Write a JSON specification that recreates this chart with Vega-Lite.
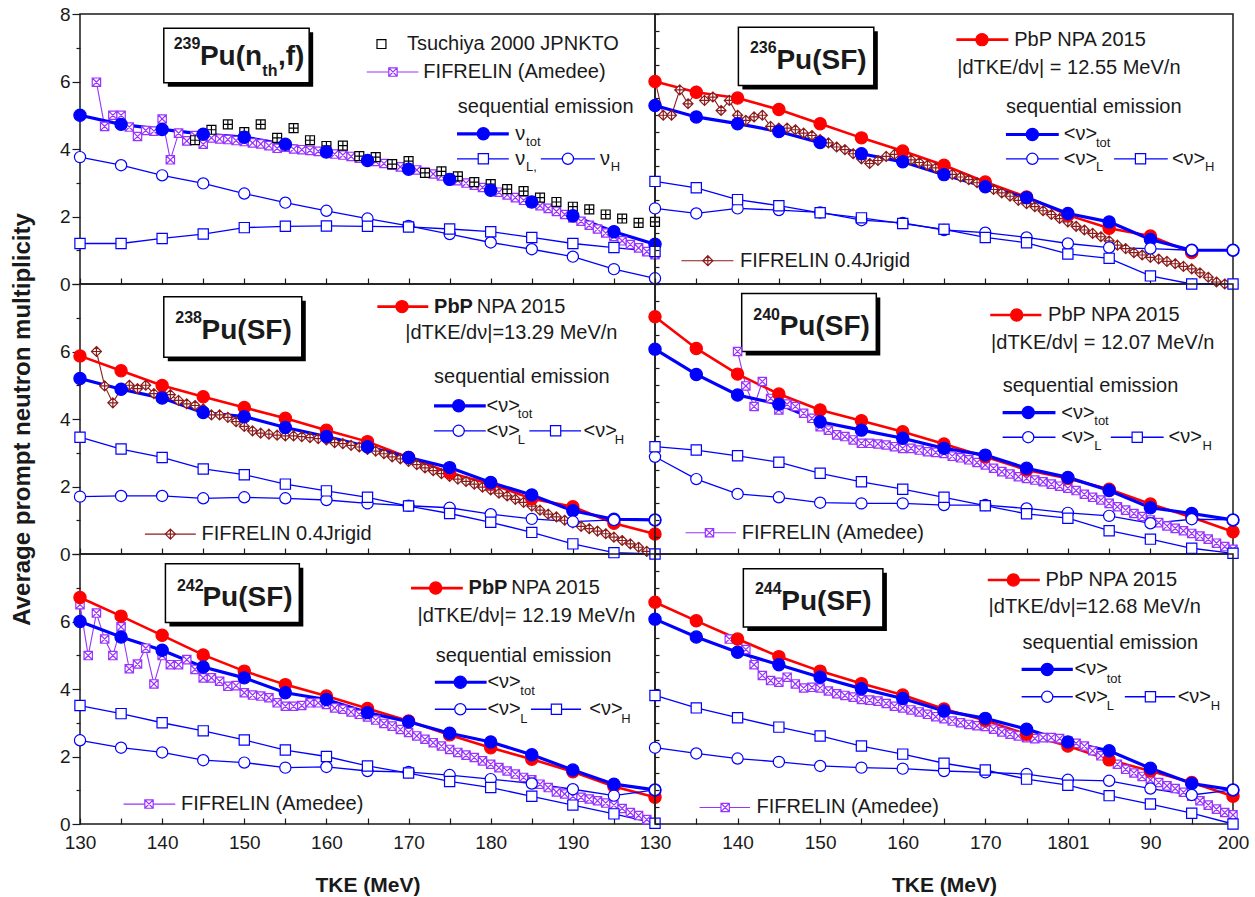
{
"$schema":"https://vega.github.io/schema/vega-lite/v6.json",
"padding":{"left":9,"top":4,"right":5,"bottom":5},
"bounds":"flush","spacing":0,"columns":2,
"config":{"view":{"stroke":"#1a1a1a","strokeWidth":1.5},
"axis":{"labelFont":"Liberation Sans","labelFontSize":19,"labelColor":"#1a1a1a","tickColor":"#1a1a1a","tickWidth":1.2,"domain":false,"grid":false,"labelFlush":false,"labelOverlap":false,"titleFont":"Liberation Sans","titleFontWeight":"bold","titleColor":"#1a1a1a"},
"text":{"font":"Liberation Sans"}},
"data":{"values":[
{"p":1,"k":"box","x":140.2,"x2":157.9,"y":7.58,"y2":5.96},
{"p":1,"k":"sup","t":"239","x":141.4,"y":7.1},
{"p":1,"k":"tt","t":"Pu(n","x":144.6,"y":6.72},
{"p":1,"k":"sup","t":"th","x":152.2,"y":6.3},
{"p":1,"k":"tt","t":",f)","x":154.1,"y":6.72},
{"p":1,"k":"kp","s":"TsuK","x":166.7,"y":7.11},
{"p":1,"k":"leg","t":"Tsuchiya 2000 JPNKTO","x":169.8,"y":7.11},
{"p":1,"k":"kl","s":"FIF","x":164.9,"x2":171.2,"y":6.28},
{"p":1,"k":"kp","s":"FIF","x":168.1,"y":6.28},
{"p":1,"k":"leg","t":"FIFRELIN (Amedee)","x":171.8,"y":6.28},
{"p":1,"k":"leg","t":"sequential emission","x":176.0,"y":5.24},
{"p":1,"k":"kl","s":"tot","x":175.9,"x2":182.2,"y":4.45},
{"p":1,"k":"kp","s":"tot","x":179.1,"y":4.45},
{"p":1,"k":"leg","t":"ν","x":183.0,"y":4.45},
{"p":1,"k":"ls","t":"tot","x":184.3,"y":4.2},
{"p":1,"k":"kl","s":"os","x":175.9,"x2":182.2,"y":3.71},
{"p":1,"k":"kp","s":"os","x":179.1,"y":3.71},
{"p":1,"k":"leg","t":"ν","x":183.0,"y":3.71},
{"p":1,"k":"ls","t":"L,","x":184.3,"y":3.46},
{"p":1,"k":"kl","s":"oc","x":186.1,"x2":192.7,"y":3.71},
{"p":1,"k":"kp","s":"oc","x":189.4,"y":3.71},
{"p":1,"k":"leg","t":"ν","x":193.3,"y":3.71},
{"p":1,"k":"ls","t":"H","x":194.6,"y":3.46},
{"p":1,"s":"FIF","x":132,"y":5.98},{"p":1,"s":"FIF","x":133,"y":4.67},{"p":1,"s":"FIF","x":134,"y":5.0},{"p":1,"s":"FIF","x":135,"y":5.0},{"p":1,"s":"FIF","x":136,"y":4.65},{"p":1,"s":"FIF","x":137,"y":4.37},{"p":1,"s":"FIF","x":138,"y":4.55},{"p":1,"s":"FIF","x":139,"y":4.53},{"p":1,"s":"FIF","x":140,"y":4.89},{"p":1,"s":"FIF","x":141,"y":3.68},{"p":1,"s":"FIF","x":142,"y":4.47},{"p":1,"s":"FIF","x":143,"y":4.24},{"p":1,"s":"FIF","x":144,"y":4.40},{"p":1,"s":"FIF","x":145,"y":4.14},{"p":1,"s":"FIF","x":146,"y":4.33},{"p":1,"s":"FIF","x":147,"y":4.30},{"p":1,"s":"FIF","x":148,"y":4.28},{"p":1,"s":"FIF","x":149,"y":4.25},{"p":1,"s":"FIF","x":150,"y":4.22},{"p":1,"s":"FIF","x":151,"y":4.18},{"p":1,"s":"FIF","x":152,"y":4.15},{"p":1,"s":"FIF","x":153,"y":4.10},{"p":1,"s":"FIF","x":154,"y":4.02},{"p":1,"s":"FIF","x":155,"y":4.05},{"p":1,"s":"FIF","x":156,"y":4.0},{"p":1,"s":"FIF","x":157,"y":3.98},{"p":1,"s":"FIF","x":158,"y":3.96},{"p":1,"s":"FIF","x":159,"y":3.93},{"p":1,"s":"FIF","x":160,"y":3.89},{"p":1,"s":"FIF","x":161,"y":3.85},{"p":1,"s":"FIF","x":162,"y":3.82},{"p":1,"s":"FIF","x":163,"y":3.78},{"p":1,"s":"FIF","x":164,"y":3.73},{"p":1,"s":"FIF","x":165,"y":3.68},{"p":1,"s":"FIF","x":166,"y":3.63},{"p":1,"s":"FIF","x":167,"y":3.57},{"p":1,"s":"FIF","x":168,"y":3.52},{"p":1,"s":"FIF","x":169,"y":3.47},{"p":1,"s":"FIF","x":170,"y":3.43},{"p":1,"s":"FIF","x":171,"y":3.38},{"p":1,"s":"FIF","x":172,"y":3.32},{"p":1,"s":"FIF","x":173,"y":3.26},{"p":1,"s":"FIF","x":174,"y":3.20},{"p":1,"s":"FIF","x":175,"y":3.13},{"p":1,"s":"FIF","x":176,"y":3.06},{"p":1,"s":"FIF","x":177,"y":2.99},{"p":1,"s":"FIF","x":178,"y":2.93},{"p":1,"s":"FIF","x":179,"y":2.86},{"p":1,"s":"FIF","x":180,"y":2.79},{"p":1,"s":"FIF","x":181,"y":2.72},{"p":1,"s":"FIF","x":182,"y":2.64},{"p":1,"s":"FIF","x":183,"y":2.56},{"p":1,"s":"FIF","x":184,"y":2.48},{"p":1,"s":"FIF","x":185,"y":2.40},{"p":1,"s":"FIF","x":186,"y":2.32},{"p":1,"s":"FIF","x":187,"y":2.24},{"p":1,"s":"FIF","x":188,"y":2.15},{"p":1,"s":"FIF","x":189,"y":2.06},{"p":1,"s":"FIF","x":190,"y":1.96},{"p":1,"s":"FIF","x":191,"y":1.86},{"p":1,"s":"FIF","x":192,"y":1.74},{"p":1,"s":"FIF","x":193,"y":1.63},{"p":1,"s":"FIF","x":194,"y":1.51},{"p":1,"s":"FIF","x":195,"y":1.41},{"p":1,"s":"FIF","x":196,"y":1.28},{"p":1,"s":"FIF","x":197,"y":1.17},{"p":1,"s":"FIF","x":198,"y":1.07},{"p":1,"s":"FIF","x":199,"y":0.96},{"p":1,"s":"FIF","x":200,"y":0.87},
{"p":1,"s":"Tsu","x":144,"y":4.26},{"p":1,"s":"Tsu","x":146,"y":4.57},{"p":1,"s":"Tsu","x":148,"y":4.73},{"p":1,"s":"Tsu","x":150,"y":4.50},{"p":1,"s":"Tsu","x":152,"y":4.73},{"p":1,"s":"Tsu","x":154,"y":4.33},{"p":1,"s":"Tsu","x":156,"y":4.62},{"p":1,"s":"Tsu","x":158,"y":4.26},{"p":1,"s":"Tsu","x":160,"y":4.09},{"p":1,"s":"Tsu","x":162,"y":4.10},{"p":1,"s":"Tsu","x":164,"y":3.79},{"p":1,"s":"Tsu","x":166,"y":3.76},{"p":1,"s":"Tsu","x":168,"y":3.55},{"p":1,"s":"Tsu","x":170,"y":3.64},{"p":1,"s":"Tsu","x":172,"y":3.29},{"p":1,"s":"Tsu","x":174,"y":3.34},{"p":1,"s":"Tsu","x":176,"y":3.19},{"p":1,"s":"Tsu","x":178,"y":3.02},{"p":1,"s":"Tsu","x":180,"y":2.96},{"p":1,"s":"Tsu","x":182,"y":2.81},{"p":1,"s":"Tsu","x":184,"y":2.75},{"p":1,"s":"Tsu","x":186,"y":2.56},{"p":1,"s":"Tsu","x":188,"y":2.43},{"p":1,"s":"Tsu","x":190,"y":2.29},{"p":1,"s":"Tsu","x":192,"y":2.21},{"p":1,"s":"Tsu","x":194,"y":2.06},{"p":1,"s":"Tsu","x":196,"y":1.94},{"p":1,"s":"Tsu","x":198,"y":1.81},{"p":1,"s":"Tsu","x":200,"y":1.84},
{"p":1,"s":"tot","x":130,"y":5.0},{"p":1,"s":"tot","x":135,"y":4.73},{"p":1,"s":"tot","x":140,"y":4.58},{"p":1,"s":"tot","x":145,"y":4.44},{"p":1,"s":"tot","x":150,"y":4.35},{"p":1,"s":"tot","x":155,"y":4.14},{"p":1,"s":"tot","x":160,"y":3.91},{"p":1,"s":"tot","x":165,"y":3.66},{"p":1,"s":"tot","x":170,"y":3.40},{"p":1,"s":"tot","x":175,"y":3.10},{"p":1,"s":"tot","x":180,"y":2.78},{"p":1,"s":"tot","x":185,"y":2.43},{"p":1,"s":"tot","x":190,"y":2.02},{"p":1,"s":"tot","x":195,"y":1.55},{"p":1,"s":"tot","x":200,"y":1.18},
{"p":1,"s":"oc","x":130,"y":3.76},{"p":1,"s":"oc","x":135,"y":3.52},{"p":1,"s":"oc","x":140,"y":3.22},{"p":1,"s":"oc","x":145,"y":2.98},{"p":1,"s":"oc","x":150,"y":2.68},{"p":1,"s":"oc","x":155,"y":2.41},{"p":1,"s":"oc","x":160,"y":2.17},{"p":1,"s":"oc","x":165,"y":1.94},{"p":1,"s":"oc","x":170,"y":1.72},{"p":1,"s":"oc","x":175,"y":1.48},{"p":1,"s":"oc","x":180,"y":1.23},{"p":1,"s":"oc","x":185,"y":1.03},{"p":1,"s":"oc","x":190,"y":0.81},{"p":1,"s":"oc","x":195,"y":0.44},{"p":1,"s":"oc","x":200,"y":0.17},
{"p":1,"s":"os","x":130,"y":1.20},{"p":1,"s":"os","x":135,"y":1.20},{"p":1,"s":"os","x":140,"y":1.35},{"p":1,"s":"os","x":145,"y":1.48},{"p":1,"s":"os","x":150,"y":1.67},{"p":1,"s":"os","x":155,"y":1.71},{"p":1,"s":"os","x":160,"y":1.72},{"p":1,"s":"os","x":165,"y":1.71},{"p":1,"s":"os","x":170,"y":1.69},{"p":1,"s":"os","x":175,"y":1.63},{"p":1,"s":"os","x":180,"y":1.55},{"p":1,"s":"os","x":185,"y":1.38},{"p":1,"s":"os","x":190,"y":1.20},{"p":1,"s":"os","x":195,"y":1.08},{"p":1,"s":"os","x":200,"y":0.96},

{"p":2,"k":"box","x":140.1,"x2":156.5,"y":7.61,"y2":5.88},
{"p":2,"k":"sup","t":"236","x":141.5,"y":7.0},
{"p":2,"k":"tt","t":"Pu(SF)","x":144.7,"y":6.62},
{"p":2,"k":"kl","s":"PbP","x":166.5,"x2":172.8,"y":7.24},
{"p":2,"k":"kp","s":"PbP","x":169.6,"y":7.24},
{"p":2,"k":"leg","t":"PbP NPA 2015","x":173.5,"y":7.24},
{"p":2,"k":"leg","t":"|dTKE/dν| = 12.55 MeV/n","x":166.6,"y":6.39},
{"p":2,"k":"leg","t":"sequential emission","x":172.5,"y":5.24},
{"p":2,"k":"kl","s":"tot","x":172.5,"x2":178.9,"y":4.43},
{"p":2,"k":"kp","s":"tot","x":175.7,"y":4.43},
{"p":2,"k":"leg","t":"<ν>","x":179.5,"y":4.43},
{"p":2,"k":"ls","t":"tot","x":183.4,"y":4.18},
{"p":2,"k":"kl","s":"oc","x":172.5,"x2":178.9,"y":3.71},
{"p":2,"k":"kp","s":"oc","x":175.7,"y":3.71},
{"p":2,"k":"leg","t":"<ν>","x":179.5,"y":3.71},
{"p":2,"k":"ls","t":"L","x":183.4,"y":3.46},
{"p":2,"k":"kl","s":"os","x":185.6,"x2":192.1,"y":3.71},
{"p":2,"k":"kp","s":"os","x":188.8,"y":3.71},
{"p":2,"k":"leg","t":"<ν>","x":192.6,"y":3.71},
{"p":2,"k":"ls","t":"H","x":196.6,"y":3.46},
{"p":2,"k":"kl","s":"FIFJ","x":133.2,"x2":139.5,"y":0.69},
{"p":2,"k":"kp","s":"FIFJ","x":136.4,"y":0.69},
{"p":2,"k":"leg","t":"FIFRELIN 0.4Jrigid","x":140.3,"y":0.69},
{"p":2,"s":"FIFJ","x":130,"y":6.03},{"p":2,"s":"FIFJ","x":131,"y":5.0},{"p":2,"s":"FIFJ","x":132,"y":5.0},{"p":2,"s":"FIFJ","x":133,"y":5.75},{"p":2,"s":"FIFJ","x":134,"y":5.34},{"p":2,"s":"FIFJ","x":135,"y":5.71},{"p":2,"s":"FIFJ","x":136,"y":5.44},{"p":2,"s":"FIFJ","x":137,"y":5.54},{"p":2,"s":"FIFJ","x":138,"y":5.14},{"p":2,"s":"FIFJ","x":139,"y":5.44},{"p":2,"s":"FIFJ","x":140,"y":5.0},{"p":2,"s":"FIFJ","x":141,"y":4.85},{"p":2,"s":"FIFJ","x":142,"y":4.95},{"p":2,"s":"FIFJ","x":143,"y":5.0},{"p":2,"s":"FIFJ","x":144,"y":4.67},{"p":2,"s":"FIFJ","x":145,"y":4.62},{"p":2,"s":"FIFJ","x":146,"y":4.62},{"p":2,"s":"FIFJ","x":147,"y":4.57},{"p":2,"s":"FIFJ","x":148,"y":4.47},{"p":2,"s":"FIFJ","x":149,"y":4.40},{"p":2,"s":"FIFJ","x":150,"y":4.28},{"p":2,"s":"FIFJ","x":151,"y":4.18},{"p":2,"s":"FIFJ","x":152,"y":4.06},{"p":2,"s":"FIFJ","x":153,"y":3.98},{"p":2,"s":"FIFJ","x":154,"y":3.86},{"p":2,"s":"FIFJ","x":155,"y":3.71},{"p":2,"s":"FIFJ","x":156,"y":3.57},{"p":2,"s":"FIFJ","x":157,"y":3.66},{"p":2,"s":"FIFJ","x":158,"y":3.78},{"p":2,"s":"FIFJ","x":159,"y":3.84},{"p":2,"s":"FIFJ","x":160,"y":3.78},{"p":2,"s":"FIFJ","x":161,"y":3.68},{"p":2,"s":"FIFJ","x":162,"y":3.60},{"p":2,"s":"FIFJ","x":163,"y":3.52},{"p":2,"s":"FIFJ","x":164,"y":3.44},{"p":2,"s":"FIFJ","x":165,"y":3.35},{"p":2,"s":"FIFJ","x":166,"y":3.25},{"p":2,"s":"FIFJ","x":167,"y":3.17},{"p":2,"s":"FIFJ","x":168,"y":3.09},{"p":2,"s":"FIFJ","x":169,"y":3.0},{"p":2,"s":"FIFJ","x":170,"y":2.92},{"p":2,"s":"FIFJ","x":171,"y":2.80},{"p":2,"s":"FIFJ","x":172,"y":2.70},{"p":2,"s":"FIFJ","x":173,"y":2.60},{"p":2,"s":"FIFJ","x":174,"y":2.48},{"p":2,"s":"FIFJ","x":175,"y":2.38},{"p":2,"s":"FIFJ","x":176,"y":2.29},{"p":2,"s":"FIFJ","x":177,"y":2.17},{"p":2,"s":"FIFJ","x":178,"y":2.06},{"p":2,"s":"FIFJ","x":179,"y":1.94},{"p":2,"s":"FIFJ","x":180,"y":1.84},{"p":2,"s":"FIFJ","x":181,"y":1.71},{"p":2,"s":"FIFJ","x":182,"y":1.60},{"p":2,"s":"FIFJ","x":183,"y":1.50},{"p":2,"s":"FIFJ","x":184,"y":1.40},{"p":2,"s":"FIFJ","x":185,"y":1.28},{"p":2,"s":"FIFJ","x":186,"y":1.15},{"p":2,"s":"FIFJ","x":187,"y":1.05},{"p":2,"s":"FIFJ","x":188,"y":0.93},{"p":2,"s":"FIFJ","x":189,"y":0.86},{"p":2,"s":"FIFJ","x":190,"y":0.79},{"p":2,"s":"FIFJ","x":191,"y":0.74},{"p":2,"s":"FIFJ","x":192,"y":0.67},{"p":2,"s":"FIFJ","x":193,"y":0.60},{"p":2,"s":"FIFJ","x":194,"y":0.52},{"p":2,"s":"FIFJ","x":195,"y":0.45},{"p":2,"s":"FIFJ","x":196,"y":0.33},{"p":2,"s":"FIFJ","x":197,"y":0.20},{"p":2,"s":"FIFJ","x":198,"y":0.06},{"p":2,"s":"FIFJ","x":199,"y":0.0},{"p":2,"s":"FIFJ","x":200,"y":0.0},
{"p":2,"s":"PbP","x":130,"y":6.0},{"p":2,"s":"PbP","x":135,"y":5.68},{"p":2,"s":"PbP","x":140,"y":5.51},{"p":2,"s":"PbP","x":145,"y":5.17},{"p":2,"s":"PbP","x":150,"y":4.75},{"p":2,"s":"PbP","x":155,"y":4.33},{"p":2,"s":"PbP","x":160,"y":3.94},{"p":2,"s":"PbP","x":165,"y":3.52},{"p":2,"s":"PbP","x":170,"y":3.02},{"p":2,"s":"PbP","x":175,"y":2.58},{"p":2,"s":"PbP","x":180,"y":2.04},{"p":2,"s":"PbP","x":185,"y":1.65},{"p":2,"s":"PbP","x":190,"y":1.42},{"p":2,"s":"PbP","x":195,"y":0.93},
{"p":2,"s":"tot","x":130,"y":5.29},{"p":2,"s":"tot","x":135,"y":4.95},{"p":2,"s":"tot","x":140,"y":4.75},{"p":2,"s":"tot","x":145,"y":4.52},{"p":2,"s":"tot","x":150,"y":4.19},{"p":2,"s":"tot","x":155,"y":3.86},{"p":2,"s":"tot","x":160,"y":3.62},{"p":2,"s":"tot","x":165,"y":3.24},{"p":2,"s":"tot","x":170,"y":2.88},{"p":2,"s":"tot","x":175,"y":2.56},{"p":2,"s":"tot","x":180,"y":2.09},{"p":2,"s":"tot","x":185,"y":1.84},{"p":2,"s":"tot","x":190,"y":1.32},{"p":2,"s":"tot","x":195,"y":1.0},{"p":2,"s":"tot","x":200,"y":1.0},
{"p":2,"s":"oc","x":130,"y":2.24},{"p":2,"s":"oc","x":135,"y":2.09},{"p":2,"s":"oc","x":140,"y":2.24},{"p":2,"s":"oc","x":145,"y":2.19},{"p":2,"s":"oc","x":150,"y":2.12},{"p":2,"s":"oc","x":155,"y":1.89},{"p":2,"s":"oc","x":160,"y":1.81},{"p":2,"s":"oc","x":165,"y":1.60},{"p":2,"s":"oc","x":170,"y":1.52},{"p":2,"s":"oc","x":175,"y":1.38},{"p":2,"s":"oc","x":180,"y":1.20},{"p":2,"s":"oc","x":185,"y":1.08},{"p":2,"s":"oc","x":190,"y":1.05},{"p":2,"s":"oc","x":195,"y":1.0},{"p":2,"s":"oc","x":200,"y":1.0},
{"p":2,"s":"os","x":130,"y":3.04},{"p":2,"s":"os","x":135,"y":2.85},{"p":2,"s":"os","x":140,"y":2.50},{"p":2,"s":"os","x":145,"y":2.32},{"p":2,"s":"os","x":150,"y":2.11},{"p":2,"s":"os","x":155,"y":1.96},{"p":2,"s":"os","x":160,"y":1.79},{"p":2,"s":"os","x":165,"y":1.62},{"p":2,"s":"os","x":170,"y":1.38},{"p":2,"s":"os","x":175,"y":1.22},{"p":2,"s":"os","x":180,"y":0.89},{"p":2,"s":"os","x":185,"y":0.76},{"p":2,"s":"os","x":190,"y":0.24},{"p":2,"s":"os","x":195,"y":0.0},{"p":2,"s":"os","x":200,"y":0.0},

{"p":3,"k":"box","x":140.2,"x2":157.0,"y":7.62,"y2":5.83},
{"p":3,"k":"sup","t":"238","x":141.6,"y":7.0},
{"p":3,"k":"tt","t":"Pu(SF)","x":144.8,"y":6.6},
{"p":3,"k":"kl","s":"PbP","x":166.2,"x2":172.4,"y":7.33},
{"p":3,"k":"kp","s":"PbP","x":169.2,"y":7.33},
{"p":3,"k":"legb","t":"PbP","x":173.1,"y":7.33},
{"p":3,"k":"leg","t":"NPA 2015","x":178.3,"y":7.33},
{"p":3,"k":"leg","t":"|dTKE/dν|=13.29 MeV/n","x":169.6,"y":6.54},
{"p":3,"k":"leg","t":"sequential emission","x":173.1,"y":5.23},
{"p":3,"k":"kl","s":"tot","x":173.1,"x2":179.4,"y":4.39},
{"p":3,"k":"kp","s":"tot","x":176.1,"y":4.39},
{"p":3,"k":"leg","t":"<ν>","x":179.5,"y":4.39},
{"p":3,"k":"ls","t":"tot","x":183.3,"y":4.15},
{"p":3,"k":"kl","s":"oc","x":173.1,"x2":179.4,"y":3.65},
{"p":3,"k":"kp","s":"oc","x":176.1,"y":3.65},
{"p":3,"k":"leg","t":"<ν>","x":179.5,"y":3.65},
{"p":3,"k":"ls","t":"L","x":183.3,"y":3.38},
{"p":3,"k":"kl","s":"os","x":184.7,"x2":191.0,"y":3.65},
{"p":3,"k":"kp","s":"os","x":187.9,"y":3.65},
{"p":3,"k":"leg","t":"<ν>","x":191.3,"y":3.65},
{"p":3,"k":"ls","t":"H","x":195.1,"y":3.38},
{"p":3,"k":"kl","s":"FIFJ","x":137.9,"x2":144.1,"y":0.59},
{"p":3,"k":"kp","s":"FIFJ","x":141.0,"y":0.59},
{"p":3,"k":"leg","t":"FIFRELIN 0.4Jrigid","x":144.8,"y":0.59},
{"p":3,"s":"FIFJ","x":132,"y":6.0},{"p":3,"s":"FIFJ","x":133,"y":4.98},{"p":3,"s":"FIFJ","x":134,"y":4.48},{"p":3,"s":"FIFJ","x":135,"y":4.9},{"p":3,"s":"FIFJ","x":136,"y":5.0},{"p":3,"s":"FIFJ","x":137,"y":4.9},{"p":3,"s":"FIFJ","x":138,"y":5.0},{"p":3,"s":"FIFJ","x":139,"y":4.75},{"p":3,"s":"FIFJ","x":140,"y":4.75},{"p":3,"s":"FIFJ","x":141,"y":4.72},{"p":3,"s":"FIFJ","x":142,"y":4.55},{"p":3,"s":"FIFJ","x":143,"y":4.45},{"p":3,"s":"FIFJ","x":144,"y":4.40},{"p":3,"s":"FIFJ","x":145,"y":4.3},{"p":3,"s":"FIFJ","x":146,"y":4.12},{"p":3,"s":"FIFJ","x":147,"y":4.12},{"p":3,"s":"FIFJ","x":148,"y":4.05},{"p":3,"s":"FIFJ","x":149,"y":3.92},{"p":3,"s":"FIFJ","x":150,"y":3.78},{"p":3,"s":"FIFJ","x":151,"y":3.65},{"p":3,"s":"FIFJ","x":152,"y":3.58},{"p":3,"s":"FIFJ","x":153,"y":3.55},{"p":3,"s":"FIFJ","x":154,"y":3.52},{"p":3,"s":"FIFJ","x":155,"y":3.50},{"p":3,"s":"FIFJ","x":156,"y":3.50},{"p":3,"s":"FIFJ","x":157,"y":3.48},{"p":3,"s":"FIFJ","x":158,"y":3.45},{"p":3,"s":"FIFJ","x":159,"y":3.42},{"p":3,"s":"FIFJ","x":160,"y":3.38},{"p":3,"s":"FIFJ","x":161,"y":3.30},{"p":3,"s":"FIFJ","x":162,"y":3.27},{"p":3,"s":"FIFJ","x":163,"y":3.22},{"p":3,"s":"FIFJ","x":164,"y":3.17},{"p":3,"s":"FIFJ","x":165,"y":3.10},{"p":3,"s":"FIFJ","x":166,"y":3.05},{"p":3,"s":"FIFJ","x":167,"y":2.97},{"p":3,"s":"FIFJ","x":168,"y":2.88},{"p":3,"s":"FIFJ","x":169,"y":2.82},{"p":3,"s":"FIFJ","x":170,"y":2.74},{"p":3,"s":"FIFJ","x":171,"y":2.65},{"p":3,"s":"FIFJ","x":172,"y":2.55},{"p":3,"s":"FIFJ","x":173,"y":2.47},{"p":3,"s":"FIFJ","x":174,"y":2.38},{"p":3,"s":"FIFJ","x":175,"y":2.30},{"p":3,"s":"FIFJ","x":176,"y":2.22},{"p":3,"s":"FIFJ","x":177,"y":2.15},{"p":3,"s":"FIFJ","x":178,"y":2.07},{"p":3,"s":"FIFJ","x":179,"y":1.98},{"p":3,"s":"FIFJ","x":180,"y":1.90},{"p":3,"s":"FIFJ","x":181,"y":1.80},{"p":3,"s":"FIFJ","x":182,"y":1.72},{"p":3,"s":"FIFJ","x":183,"y":1.62},{"p":3,"s":"FIFJ","x":184,"y":1.53},{"p":3,"s":"FIFJ","x":185,"y":1.42},{"p":3,"s":"FIFJ","x":186,"y":1.30},{"p":3,"s":"FIFJ","x":187,"y":1.18},{"p":3,"s":"FIFJ","x":188,"y":1.10},{"p":3,"s":"FIFJ","x":189,"y":1.0},{"p":3,"s":"FIFJ","x":190,"y":0.92},{"p":3,"s":"FIFJ","x":191,"y":0.82},{"p":3,"s":"FIFJ","x":192,"y":0.75},{"p":3,"s":"FIFJ","x":193,"y":0.68},{"p":3,"s":"FIFJ","x":194,"y":0.60},{"p":3,"s":"FIFJ","x":195,"y":0.50},{"p":3,"s":"FIFJ","x":196,"y":0.40},{"p":3,"s":"FIFJ","x":197,"y":0.30},{"p":3,"s":"FIFJ","x":198,"y":0.20},{"p":3,"s":"FIFJ","x":199,"y":0.08},{"p":3,"s":"FIFJ","x":200,"y":0.0},
{"p":3,"s":"PbP","x":130,"y":5.87},{"p":3,"s":"PbP","x":135,"y":5.43},{"p":3,"s":"PbP","x":140,"y":4.99},{"p":3,"s":"PbP","x":145,"y":4.66},{"p":3,"s":"PbP","x":150,"y":4.34},{"p":3,"s":"PbP","x":155,"y":4.02},{"p":3,"s":"PbP","x":160,"y":3.67},{"p":3,"s":"PbP","x":165,"y":3.33},{"p":3,"s":"PbP","x":170,"y":2.86},{"p":3,"s":"PbP","x":175,"y":2.41},{"p":3,"s":"PbP","x":180,"y":2.07},{"p":3,"s":"PbP","x":185,"y":1.64},{"p":3,"s":"PbP","x":190,"y":1.40},{"p":3,"s":"PbP","x":195,"y":0.91},{"p":3,"s":"PbP","x":200,"y":0.59},
{"p":3,"s":"tot","x":130,"y":5.2},{"p":3,"s":"tot","x":135,"y":4.88},{"p":3,"s":"tot","x":140,"y":4.62},{"p":3,"s":"tot","x":145,"y":4.19},{"p":3,"s":"tot","x":150,"y":4.07},{"p":3,"s":"tot","x":155,"y":3.75},{"p":3,"s":"tot","x":160,"y":3.48},{"p":3,"s":"tot","x":165,"y":3.18},{"p":3,"s":"tot","x":170,"y":2.86},{"p":3,"s":"tot","x":175,"y":2.56},{"p":3,"s":"tot","x":180,"y":2.12},{"p":3,"s":"tot","x":185,"y":1.75},{"p":3,"s":"tot","x":190,"y":1.28},{"p":3,"s":"tot","x":195,"y":1.03},{"p":3,"s":"tot","x":200,"y":1.01},
{"p":3,"s":"oc","x":130,"y":1.70},{"p":3,"s":"oc","x":135,"y":1.72},{"p":3,"s":"oc","x":140,"y":1.72},{"p":3,"s":"oc","x":145,"y":1.65},{"p":3,"s":"oc","x":150,"y":1.68},{"p":3,"s":"oc","x":155,"y":1.65},{"p":3,"s":"oc","x":160,"y":1.60},{"p":3,"s":"oc","x":165,"y":1.50},{"p":3,"s":"oc","x":170,"y":1.43},{"p":3,"s":"oc","x":175,"y":1.37},{"p":3,"s":"oc","x":180,"y":1.18},{"p":3,"s":"oc","x":185,"y":1.04},{"p":3,"s":"oc","x":190,"y":0.96},{"p":3,"s":"oc","x":195,"y":1.01},{"p":3,"s":"oc","x":200,"y":1.01},
{"p":3,"s":"os","x":130,"y":3.46},{"p":3,"s":"os","x":135,"y":3.11},{"p":3,"s":"os","x":140,"y":2.86},{"p":3,"s":"os","x":145,"y":2.52},{"p":3,"s":"os","x":150,"y":2.35},{"p":3,"s":"os","x":155,"y":2.07},{"p":3,"s":"os","x":160,"y":1.87},{"p":3,"s":"os","x":165,"y":1.68},{"p":3,"s":"os","x":170,"y":1.42},{"p":3,"s":"os","x":175,"y":1.20},{"p":3,"s":"os","x":180,"y":0.94},{"p":3,"s":"os","x":185,"y":0.64},{"p":3,"s":"os","x":190,"y":0.30},{"p":3,"s":"os","x":195,"y":0.04},{"p":3,"s":"os","x":200,"y":0.0},

{"p":4,"k":"box","x":140.5,"x2":156.8,"y":7.72,"y2":6.0},
{"p":4,"k":"sup","t":"240","x":141.9,"y":7.08},
{"p":4,"k":"tt","t":"Pu(SF)","x":145.1,"y":6.73},
{"p":4,"k":"kl","s":"PbP","x":170.6,"x2":176.8,"y":7.08},
{"p":4,"k":"kp","s":"PbP","x":173.8,"y":7.08},
{"p":4,"k":"leg","t":"PbP NPA 2015","x":177.6,"y":7.08},
{"p":4,"k":"leg","t":"|dTKE/dν| = 12.07 MeV/n","x":170.7,"y":6.24},
{"p":4,"k":"leg","t":"sequential emission","x":172.1,"y":4.98},
{"p":4,"k":"kl","s":"tot","x":172.1,"x2":178.5,"y":4.19},
{"p":4,"k":"kp","s":"tot","x":175.2,"y":4.19},
{"p":4,"k":"leg","t":"<ν>","x":179.2,"y":4.19},
{"p":4,"k":"ls","t":"tot","x":183.2,"y":3.94},
{"p":4,"k":"kl","s":"oc","x":172.1,"x2":178.5,"y":3.46},
{"p":4,"k":"kp","s":"oc","x":175.2,"y":3.46},
{"p":4,"k":"leg","t":"<ν>","x":179.2,"y":3.46},
{"p":4,"k":"ls","t":"L","x":183.2,"y":3.2},
{"p":4,"k":"kl","s":"os","x":185.2,"x2":191.6,"y":3.46},
{"p":4,"k":"kp","s":"os","x":188.4,"y":3.46},
{"p":4,"k":"leg","t":"<ν>","x":192.2,"y":3.46},
{"p":4,"k":"ls","t":"H","x":196.3,"y":3.2},
{"p":4,"k":"kl","s":"FIF","x":133.7,"x2":139.8,"y":0.63},
{"p":4,"k":"kp","s":"FIF","x":136.6,"y":0.63},
{"p":4,"k":"leg","t":"FIFRELIN (Amedee)","x":140.5,"y":0.63},
{"p":4,"s":"FIF","x":140,"y":6.0},{"p":4,"s":"FIF","x":141,"y":4.98},{"p":4,"s":"FIF","x":142,"y":4.37},{"p":4,"s":"FIF","x":143,"y":5.11},{"p":4,"s":"FIF","x":144,"y":4.61},{"p":4,"s":"FIF","x":145,"y":4.27},{"p":4,"s":"FIF","x":146,"y":4.44},{"p":4,"s":"FIF","x":147,"y":4.37},{"p":4,"s":"FIF","x":148,"y":4.17},{"p":4,"s":"FIF","x":149,"y":4.02},{"p":4,"s":"FIF","x":150,"y":3.77},{"p":4,"s":"FIF","x":151,"y":3.67},{"p":4,"s":"FIF","x":152,"y":3.53},{"p":4,"s":"FIF","x":153,"y":3.48},{"p":4,"s":"FIF","x":154,"y":3.38},{"p":4,"s":"FIF","x":155,"y":3.28},{"p":4,"s":"FIF","x":156,"y":3.28},{"p":4,"s":"FIF","x":157,"y":3.26},{"p":4,"s":"FIF","x":158,"y":3.23},{"p":4,"s":"FIF","x":159,"y":3.18},{"p":4,"s":"FIF","x":160,"y":3.13},{"p":4,"s":"FIF","x":161,"y":3.13},{"p":4,"s":"FIF","x":162,"y":3.08},{"p":4,"s":"FIF","x":163,"y":3.03},{"p":4,"s":"FIF","x":164,"y":3.01},{"p":4,"s":"FIF","x":165,"y":2.98},{"p":4,"s":"FIF","x":166,"y":2.90},{"p":4,"s":"FIF","x":167,"y":2.85},{"p":4,"s":"FIF","x":168,"y":2.79},{"p":4,"s":"FIF","x":169,"y":2.71},{"p":4,"s":"FIF","x":170,"y":2.64},{"p":4,"s":"FIF","x":171,"y":2.54},{"p":4,"s":"FIF","x":172,"y":2.44},{"p":4,"s":"FIF","x":173,"y":2.37},{"p":4,"s":"FIF","x":174,"y":2.29},{"p":4,"s":"FIF","x":175,"y":2.24},{"p":4,"s":"FIF","x":176,"y":2.19},{"p":4,"s":"FIF","x":177,"y":2.14},{"p":4,"s":"FIF","x":178,"y":2.07},{"p":4,"s":"FIF","x":179,"y":2.01},{"p":4,"s":"FIF","x":180,"y":1.95},{"p":4,"s":"FIF","x":181,"y":1.88},{"p":4,"s":"FIF","x":182,"y":1.77},{"p":4,"s":"FIF","x":183,"y":1.68},{"p":4,"s":"FIF","x":184,"y":1.60},{"p":4,"s":"FIF","x":185,"y":1.50},{"p":4,"s":"FIF","x":186,"y":1.40},{"p":4,"s":"FIF","x":187,"y":1.30},{"p":4,"s":"FIF","x":188,"y":1.20},{"p":4,"s":"FIF","x":189,"y":1.11},{"p":4,"s":"FIF","x":190,"y":1.01},{"p":4,"s":"FIF","x":191,"y":0.93},{"p":4,"s":"FIF","x":192,"y":0.83},{"p":4,"s":"FIF","x":193,"y":0.76},{"p":4,"s":"FIF","x":194,"y":0.69},{"p":4,"s":"FIF","x":195,"y":0.61},{"p":4,"s":"FIF","x":196,"y":0.53},{"p":4,"s":"FIF","x":197,"y":0.44},{"p":4,"s":"FIF","x":198,"y":0.32},{"p":4,"s":"FIF","x":199,"y":0.22},{"p":4,"s":"FIF","x":200,"y":0.14},
{"p":4,"s":"PbP","x":130,"y":7.03},{"p":4,"s":"PbP","x":135,"y":6.09},{"p":4,"s":"PbP","x":140,"y":5.33},{"p":4,"s":"PbP","x":145,"y":4.74},{"p":4,"s":"PbP","x":150,"y":4.27},{"p":4,"s":"PbP","x":155,"y":3.95},{"p":4,"s":"PbP","x":160,"y":3.62},{"p":4,"s":"PbP","x":165,"y":3.26},{"p":4,"s":"PbP","x":170,"y":2.88},{"p":4,"s":"PbP","x":175,"y":2.49},{"p":4,"s":"PbP","x":180,"y":2.24},{"p":4,"s":"PbP","x":185,"y":1.92},{"p":4,"s":"PbP","x":190,"y":1.48},{"p":4,"s":"PbP","x":195,"y":1.09},{"p":4,"s":"PbP","x":200,"y":0.66},
{"p":4,"s":"tot","x":130,"y":6.07},{"p":4,"s":"tot","x":135,"y":5.32},{"p":4,"s":"tot","x":140,"y":4.71},{"p":4,"s":"tot","x":145,"y":4.44},{"p":4,"s":"tot","x":150,"y":3.92},{"p":4,"s":"tot","x":155,"y":3.67},{"p":4,"s":"tot","x":160,"y":3.43},{"p":4,"s":"tot","x":165,"y":3.13},{"p":4,"s":"tot","x":170,"y":2.93},{"p":4,"s":"tot","x":175,"y":2.54},{"p":4,"s":"tot","x":180,"y":2.27},{"p":4,"s":"tot","x":185,"y":1.88},{"p":4,"s":"tot","x":190,"y":1.37},{"p":4,"s":"tot","x":195,"y":1.20},{"p":4,"s":"tot","x":200,"y":1.01},
{"p":4,"s":"oc","x":130,"y":2.88},{"p":4,"s":"oc","x":135,"y":2.22},{"p":4,"s":"oc","x":140,"y":1.78},{"p":4,"s":"oc","x":145,"y":1.68},{"p":4,"s":"oc","x":150,"y":1.52},{"p":4,"s":"oc","x":155,"y":1.50},{"p":4,"s":"oc","x":160,"y":1.50},{"p":4,"s":"oc","x":165,"y":1.45},{"p":4,"s":"oc","x":170,"y":1.45},{"p":4,"s":"oc","x":175,"y":1.35},{"p":4,"s":"oc","x":180,"y":1.22},{"p":4,"s":"oc","x":185,"y":1.13},{"p":4,"s":"oc","x":190,"y":0.91},{"p":4,"s":"oc","x":195,"y":1.03},{"p":4,"s":"oc","x":200,"y":1.01},
{"p":4,"s":"os","x":130,"y":3.18},{"p":4,"s":"os","x":135,"y":3.08},{"p":4,"s":"os","x":140,"y":2.91},{"p":4,"s":"os","x":145,"y":2.72},{"p":4,"s":"os","x":150,"y":2.39},{"p":4,"s":"os","x":155,"y":2.14},{"p":4,"s":"os","x":160,"y":1.92},{"p":4,"s":"os","x":165,"y":1.68},{"p":4,"s":"os","x":170,"y":1.43},{"p":4,"s":"os","x":175,"y":1.19},{"p":4,"s":"os","x":180,"y":1.06},{"p":4,"s":"os","x":185,"y":0.69},{"p":4,"s":"os","x":190,"y":0.44},{"p":4,"s":"os","x":195,"y":0.17},{"p":4,"s":"os","x":200,"y":0.02},

{"p":5,"k":"box","x":140.4,"x2":156.7,"y":7.71,"y2":5.97},
{"p":5,"k":"sup","t":"242","x":141.8,"y":7.06},
{"p":5,"k":"tt","t":"Pu(SF)","x":144.9,"y":6.7},
{"p":5,"k":"kl","s":"PbP","x":170.3,"x2":176.6,"y":6.99},
{"p":5,"k":"kp","s":"PbP","x":173.3,"y":6.99},
{"p":5,"k":"legb","t":"PbP","x":177.3,"y":6.99},
{"p":5,"k":"leg","t":"NPA 2015","x":182.5,"y":6.99},
{"p":5,"k":"leg","t":"|dTKE/dν|= 12.19 MeV/n","x":171.1,"y":6.15},
{"p":5,"k":"leg","t":"sequential emission","x":173.3,"y":4.99},
{"p":5,"k":"kl","s":"tot","x":173.2,"x2":179.5,"y":4.2},
{"p":5,"k":"kp","s":"tot","x":176.3,"y":4.2},
{"p":5,"k":"leg","t":"<ν>","x":179.6,"y":4.2},
{"p":5,"k":"ls","t":"tot","x":183.6,"y":3.94},
{"p":5,"k":"kl","s":"oc","x":173.2,"x2":179.5,"y":3.40},
{"p":5,"k":"kp","s":"oc","x":176.3,"y":3.40},
{"p":5,"k":"leg","t":"<ν>","x":179.6,"y":3.40},
{"p":5,"k":"ls","t":"L","x":183.6,"y":3.12},
{"p":5,"k":"kl","s":"os","x":184.9,"x2":191.0,"y":3.40},
{"p":5,"k":"kp","s":"os","x":188.0,"y":3.40},
{"p":5,"k":"leg","t":"<ν>","x":192.0,"y":3.40},
{"p":5,"k":"ls","t":"H","x":195.9,"y":3.12},
{"p":5,"k":"kl","s":"FIF","x":135.3,"x2":141.6,"y":0.59},
{"p":5,"k":"kp","s":"FIF","x":138.4,"y":0.59},
{"p":5,"k":"leg","t":"FIFRELIN (Amedee)","x":142.3,"y":0.59},
{"p":5,"s":"FIF","x":130,"y":6.5},{"p":5,"s":"FIF","x":131,"y":4.99},{"p":5,"s":"FIF","x":132,"y":6.25},{"p":5,"s":"FIF","x":133,"y":5.48},{"p":5,"s":"FIF","x":134,"y":4.99},{"p":5,"s":"FIF","x":135,"y":5.84},{"p":5,"s":"FIF","x":136,"y":4.6},{"p":5,"s":"FIF","x":137,"y":4.74},{"p":5,"s":"FIF","x":138,"y":5.21},{"p":5,"s":"FIF","x":139,"y":4.15},{"p":5,"s":"FIF","x":140,"y":4.99},{"p":5,"s":"FIF","x":141,"y":4.72},{"p":5,"s":"FIF","x":142,"y":4.72},{"p":5,"s":"FIF","x":143,"y":4.87},{"p":5,"s":"FIF","x":144,"y":4.58},{"p":5,"s":"FIF","x":145,"y":4.33},{"p":5,"s":"FIF","x":146,"y":4.33},{"p":5,"s":"FIF","x":147,"y":4.23},{"p":5,"s":"FIF","x":148,"y":4.08},{"p":5,"s":"FIF","x":149,"y":4.1},{"p":5,"s":"FIF","x":150,"y":3.89},{"p":5,"s":"FIF","x":151,"y":3.82},{"p":5,"s":"FIF","x":152,"y":3.79},{"p":5,"s":"FIF","x":153,"y":3.74},{"p":5,"s":"FIF","x":154,"y":3.59},{"p":5,"s":"FIF","x":155,"y":3.49},{"p":5,"s":"FIF","x":156,"y":3.49},{"p":5,"s":"FIF","x":157,"y":3.51},{"p":5,"s":"FIF","x":158,"y":3.59},{"p":5,"s":"FIF","x":159,"y":3.59},{"p":5,"s":"FIF","x":160,"y":3.54},{"p":5,"s":"FIF","x":161,"y":3.44},{"p":5,"s":"FIF","x":162,"y":3.40},{"p":5,"s":"FIF","x":163,"y":3.32},{"p":5,"s":"FIF","x":164,"y":3.25},{"p":5,"s":"FIF","x":165,"y":3.17},{"p":5,"s":"FIF","x":166,"y":3.08},{"p":5,"s":"FIF","x":167,"y":2.98},{"p":5,"s":"FIF","x":168,"y":2.9},{"p":5,"s":"FIF","x":169,"y":2.8},{"p":5,"s":"FIF","x":170,"y":2.71},{"p":5,"s":"FIF","x":171,"y":2.61},{"p":5,"s":"FIF","x":172,"y":2.51},{"p":5,"s":"FIF","x":173,"y":2.41},{"p":5,"s":"FIF","x":174,"y":2.31},{"p":5,"s":"FIF","x":175,"y":2.21},{"p":5,"s":"FIF","x":176,"y":2.12},{"p":5,"s":"FIF","x":177,"y":2.04},{"p":5,"s":"FIF","x":178,"y":1.97},{"p":5,"s":"FIF","x":179,"y":1.87},{"p":5,"s":"FIF","x":180,"y":1.77},{"p":5,"s":"FIF","x":181,"y":1.67},{"p":5,"s":"FIF","x":182,"y":1.57},{"p":5,"s":"FIF","x":183,"y":1.48},{"p":5,"s":"FIF","x":184,"y":1.38},{"p":5,"s":"FIF","x":185,"y":1.31},{"p":5,"s":"FIF","x":186,"y":1.18},{"p":5,"s":"FIF","x":187,"y":1.08},{"p":5,"s":"FIF","x":188,"y":0.95},{"p":5,"s":"FIF","x":189,"y":0.89},{"p":5,"s":"FIF","x":190,"y":0.82},{"p":5,"s":"FIF","x":191,"y":0.79},{"p":5,"s":"FIF","x":192,"y":0.74},{"p":5,"s":"FIF","x":193,"y":0.69},{"p":5,"s":"FIF","x":194,"y":0.62},{"p":5,"s":"FIF","x":195,"y":0.56},{"p":5,"s":"FIF","x":196,"y":0.46},{"p":5,"s":"FIF","x":197,"y":0.34},{"p":5,"s":"FIF","x":198,"y":0.25},{"p":5,"s":"FIF","x":199,"y":0.13},{"p":5,"s":"FIF","x":200,"y":0.0},
{"p":5,"s":"PbP","x":130,"y":6.71},{"p":5,"s":"PbP","x":135,"y":6.16},{"p":5,"s":"PbP","x":140,"y":5.59},{"p":5,"s":"PbP","x":145,"y":5.01},{"p":5,"s":"PbP","x":150,"y":4.53},{"p":5,"s":"PbP","x":155,"y":4.13},{"p":5,"s":"PbP","x":160,"y":3.79},{"p":5,"s":"PbP","x":165,"y":3.42},{"p":5,"s":"PbP","x":170,"y":3.05},{"p":5,"s":"PbP","x":175,"y":2.64},{"p":5,"s":"PbP","x":180,"y":2.26},{"p":5,"s":"PbP","x":185,"y":1.92},{"p":5,"s":"PbP","x":190,"y":1.55},{"p":5,"s":"PbP","x":195,"y":1.11},{"p":5,"s":"PbP","x":200,"y":0.79},
{"p":5,"s":"tot","x":130,"y":6.0},{"p":5,"s":"tot","x":135,"y":5.54},{"p":5,"s":"tot","x":140,"y":5.15},{"p":5,"s":"tot","x":145,"y":4.65},{"p":5,"s":"tot","x":150,"y":4.33},{"p":5,"s":"tot","x":155,"y":3.89},{"p":5,"s":"tot","x":160,"y":3.69},{"p":5,"s":"tot","x":165,"y":3.30},{"p":5,"s":"tot","x":170,"y":3.03},{"p":5,"s":"tot","x":175,"y":2.69},{"p":5,"s":"tot","x":180,"y":2.43},{"p":5,"s":"tot","x":185,"y":2.05},{"p":5,"s":"tot","x":190,"y":1.60},{"p":5,"s":"tot","x":195,"y":1.18},{"p":5,"s":"tot","x":200,"y":1.01},
{"p":5,"s":"oc","x":130,"y":2.48},{"p":5,"s":"oc","x":135,"y":2.26},{"p":5,"s":"oc","x":140,"y":2.12},{"p":5,"s":"oc","x":145,"y":1.89},{"p":5,"s":"oc","x":150,"y":1.82},{"p":5,"s":"oc","x":155,"y":1.67},{"p":5,"s":"oc","x":160,"y":1.69},{"p":5,"s":"oc","x":165,"y":1.57},{"p":5,"s":"oc","x":170,"y":1.54},{"p":5,"s":"oc","x":175,"y":1.45},{"p":5,"s":"oc","x":180,"y":1.33},{"p":5,"s":"oc","x":185,"y":1.20},{"p":5,"s":"oc","x":190,"y":1.03},{"p":5,"s":"oc","x":195,"y":0.84},{"p":5,"s":"oc","x":200,"y":1.01},
{"p":5,"s":"os","x":130,"y":3.51},{"p":5,"s":"os","x":135,"y":3.27},{"p":5,"s":"os","x":140,"y":3.0},{"p":5,"s":"os","x":145,"y":2.76},{"p":5,"s":"os","x":150,"y":2.49},{"p":5,"s":"os","x":155,"y":2.19},{"p":5,"s":"os","x":160,"y":2.0},{"p":5,"s":"os","x":165,"y":1.72},{"p":5,"s":"os","x":170,"y":1.51},{"p":5,"s":"os","x":175,"y":1.26},{"p":5,"s":"os","x":180,"y":1.08},{"p":5,"s":"os","x":185,"y":0.82},{"p":5,"s":"os","x":190,"y":0.56},{"p":5,"s":"os","x":195,"y":0.30},{"p":5,"s":"os","x":200,"y":0.02},

{"p":6,"k":"box","x":140.7,"x2":157.6,"y":7.56,"y2":5.84},
{"p":6,"k":"sup","t":"244","x":142.1,"y":6.95},
{"p":6,"k":"tt","t":"Pu(SF)","x":145.3,"y":6.57},
{"p":6,"k":"kl","s":"PbP","x":170.3,"x2":176.6,"y":7.23},
{"p":6,"k":"kp","s":"PbP","x":173.4,"y":7.23},
{"p":6,"k":"leg","t":"PbP NPA 2015","x":177.3,"y":7.23},
{"p":6,"k":"leg","t":"|dTKE/dν|=12.68 MeV/n","x":170.4,"y":6.43},
{"p":6,"k":"leg","t":"sequential emission","x":174.5,"y":5.36},
{"p":6,"k":"kl","s":"tot","x":174.4,"x2":180.6,"y":4.58},
{"p":6,"k":"kp","s":"tot","x":177.5,"y":4.58},
{"p":6,"k":"leg","t":"<ν>","x":180.8,"y":4.58},
{"p":6,"k":"ls","t":"tot","x":184.7,"y":4.3},
{"p":6,"k":"kl","s":"oc","x":174.4,"x2":180.6,"y":3.77},
{"p":6,"k":"kp","s":"oc","x":177.5,"y":3.77},
{"p":6,"k":"leg","t":"<ν>","x":180.8,"y":3.77},
{"p":6,"k":"ls","t":"L","x":184.7,"y":3.51},
{"p":6,"k":"kl","s":"os","x":186.9,"x2":193.0,"y":3.77},
{"p":6,"k":"kp","s":"os","x":190.0,"y":3.77},
{"p":6,"k":"leg","t":"<ν>","x":193.3,"y":3.77},
{"p":6,"k":"ls","t":"H","x":197.3,"y":3.51},
{"p":6,"k":"kl","s":"FIF","x":135.4,"x2":141.5,"y":0.49},
{"p":6,"k":"kp","s":"FIF","x":138.5,"y":0.49},
{"p":6,"k":"leg","t":"FIFRELIN (Amedee)","x":142.3,"y":0.49},
{"p":6,"s":"FIF","x":139,"y":5.48},{"p":6,"s":"FIF","x":140,"y":5.48},{"p":6,"s":"FIF","x":141,"y":5.17},{"p":6,"s":"FIF","x":142,"y":4.72},{"p":6,"s":"FIF","x":143,"y":4.40},{"p":6,"s":"FIF","x":144,"y":4.25},{"p":6,"s":"FIF","x":145,"y":4.20},{"p":6,"s":"FIF","x":146,"y":4.35},{"p":6,"s":"FIF","x":147,"y":4.15},{"p":6,"s":"FIF","x":148,"y":4.03},{"p":6,"s":"FIF","x":149,"y":4.05},{"p":6,"s":"FIF","x":150,"y":4.03},{"p":6,"s":"FIF","x":151,"y":3.94},{"p":6,"s":"FIF","x":152,"y":3.86},{"p":6,"s":"FIF","x":153,"y":3.81},{"p":6,"s":"FIF","x":154,"y":3.76},{"p":6,"s":"FIF","x":155,"y":3.69},{"p":6,"s":"FIF","x":156,"y":3.67},{"p":6,"s":"FIF","x":157,"y":3.64},{"p":6,"s":"FIF","x":158,"y":3.57},{"p":6,"s":"FIF","x":159,"y":3.49},{"p":6,"s":"FIF","x":160,"y":3.44},{"p":6,"s":"FIF","x":161,"y":3.38},{"p":6,"s":"FIF","x":162,"y":3.32},{"p":6,"s":"FIF","x":163,"y":3.25},{"p":6,"s":"FIF","x":164,"y":3.18},{"p":6,"s":"FIF","x":165,"y":3.12},{"p":6,"s":"FIF","x":166,"y":3.05},{"p":6,"s":"FIF","x":167,"y":3.0},{"p":6,"s":"FIF","x":168,"y":2.95},{"p":6,"s":"FIF","x":169,"y":2.91},{"p":6,"s":"FIF","x":170,"y":2.89},{"p":6,"s":"FIF","x":171,"y":2.81},{"p":6,"s":"FIF","x":172,"y":2.73},{"p":6,"s":"FIF","x":173,"y":2.66},{"p":6,"s":"FIF","x":174,"y":2.61},{"p":6,"s":"FIF","x":175,"y":2.56},{"p":6,"s":"FIF","x":176,"y":2.53},{"p":6,"s":"FIF","x":177,"y":2.56},{"p":6,"s":"FIF","x":178,"y":2.56},{"p":6,"s":"FIF","x":179,"y":2.53},{"p":6,"s":"FIF","x":180,"y":2.46},{"p":6,"s":"FIF","x":181,"y":2.39},{"p":6,"s":"FIF","x":182,"y":2.31},{"p":6,"s":"FIF","x":183,"y":2.17},{"p":6,"s":"FIF","x":184,"y":2.02},{"p":6,"s":"FIF","x":185,"y":1.90},{"p":6,"s":"FIF","x":186,"y":1.77},{"p":6,"s":"FIF","x":187,"y":1.62},{"p":6,"s":"FIF","x":188,"y":1.51},{"p":6,"s":"FIF","x":189,"y":1.41},{"p":6,"s":"FIF","x":190,"y":1.31},{"p":6,"s":"FIF","x":191,"y":1.23},{"p":6,"s":"FIF","x":192,"y":1.13},{"p":6,"s":"FIF","x":193,"y":1.05},{"p":6,"s":"FIF","x":194,"y":0.94},{"p":6,"s":"FIF","x":195,"y":0.82},{"p":6,"s":"FIF","x":196,"y":0.69},{"p":6,"s":"FIF","x":197,"y":0.56},{"p":6,"s":"FIF","x":198,"y":0.44},{"p":6,"s":"FIF","x":199,"y":0.34},{"p":6,"s":"FIF","x":200,"y":0.27},
{"p":6,"s":"PbP","x":130,"y":6.57},{"p":6,"s":"PbP","x":135,"y":6.02},{"p":6,"s":"PbP","x":140,"y":5.48},{"p":6,"s":"PbP","x":145,"y":4.96},{"p":6,"s":"PbP","x":150,"y":4.53},{"p":6,"s":"PbP","x":155,"y":4.16},{"p":6,"s":"PbP","x":160,"y":3.82},{"p":6,"s":"PbP","x":165,"y":3.41},{"p":6,"s":"PbP","x":170,"y":3.07},{"p":6,"s":"PbP","x":175,"y":2.66},{"p":6,"s":"PbP","x":180,"y":2.31},{"p":6,"s":"PbP","x":185,"y":1.90},{"p":6,"s":"PbP","x":190,"y":1.57},{"p":6,"s":"PbP","x":195,"y":1.23},{"p":6,"s":"PbP","x":200,"y":0.82},
{"p":6,"s":"tot","x":130,"y":6.07},{"p":6,"s":"tot","x":135,"y":5.54},{"p":6,"s":"tot","x":140,"y":5.09},{"p":6,"s":"tot","x":145,"y":4.72},{"p":6,"s":"tot","x":150,"y":4.35},{"p":6,"s":"tot","x":155,"y":4.01},{"p":6,"s":"tot","x":160,"y":3.72},{"p":6,"s":"tot","x":165,"y":3.35},{"p":6,"s":"tot","x":170,"y":3.13},{"p":6,"s":"tot","x":175,"y":2.81},{"p":6,"s":"tot","x":180,"y":2.43},{"p":6,"s":"tot","x":185,"y":2.17},{"p":6,"s":"tot","x":190,"y":1.65},{"p":6,"s":"tot","x":195,"y":1.20},{"p":6,"s":"tot","x":200,"y":1.01},
{"p":6,"s":"oc","x":130,"y":2.26},{"p":6,"s":"oc","x":135,"y":2.09},{"p":6,"s":"oc","x":140,"y":1.94},{"p":6,"s":"oc","x":145,"y":1.84},{"p":6,"s":"oc","x":150,"y":1.72},{"p":6,"s":"oc","x":155,"y":1.67},{"p":6,"s":"oc","x":160,"y":1.64},{"p":6,"s":"oc","x":165,"y":1.57},{"p":6,"s":"oc","x":170,"y":1.53},{"p":6,"s":"oc","x":175,"y":1.48},{"p":6,"s":"oc","x":180,"y":1.31},{"p":6,"s":"oc","x":185,"y":1.28},{"p":6,"s":"oc","x":190,"y":1.05},{"p":6,"s":"oc","x":195,"y":0.86},{"p":6,"s":"oc","x":200,"y":1.01},
{"p":6,"s":"os","x":130,"y":3.81},{"p":6,"s":"os","x":135,"y":3.44},{"p":6,"s":"os","x":140,"y":3.15},{"p":6,"s":"os","x":145,"y":2.87},{"p":6,"s":"os","x":150,"y":2.61},{"p":6,"s":"os","x":155,"y":2.31},{"p":6,"s":"os","x":160,"y":2.07},{"p":6,"s":"os","x":165,"y":1.80},{"p":6,"s":"os","x":170,"y":1.60},{"p":6,"s":"os","x":175,"y":1.33},{"p":6,"s":"os","x":180,"y":1.15},{"p":6,"s":"os","x":185,"y":0.84},{"p":6,"s":"os","x":190,"y":0.59},{"p":6,"s":"os","x":195,"y":0.32},{"p":6,"s":"os","x":200,"y":0.0}
]},
"concat":[
{"width":575,"height":270,"transform":[{"filter":"datum.p==1"}],
"encoding":{"x":{"field":"x","type":"quantitative","scale":{"domain":[130,200],"nice":false,"zero":false},"axis":{"values":[130,135,140,145,150,155,160,165,170,175,180,185,190,195,200],"labels":false,"tickSize":-6,"title":null}},
"y":{"field":"y","type":"quantitative","scale":{"domain":[0,8],"nice":false,"zero":false},"axis":{"values":[0,0.5,1,1.5,2,2.5,3,3.5,4,4.5,5,5.5,6,6.5,7,7.5,8],"format":"d","labelExpr":"datum.value%2==0 ? datum.label : ''","tickSize":{"condition":{"test":"datum.value%2==0","value":8},"value":4},"labelPadding":2,"title":null}}},
"layer":[
{"transform":[{"filter":"datum.k=='box'"}],"mark":{"type":"rect","fill":"black","xOffset":4,"x2Offset":4,"yOffset":4,"y2Offset":4},"encoding":{"x2":{"field":"x2"},"y2":{"field":"y2"}}},
{"transform":[{"filter":"datum.k=='box'"}],"mark":{"type":"rect","fill":"white","stroke":"black","strokeWidth":1.5},"encoding":{"x2":{"field":"x2"},"y2":{"field":"y2"}}},
{"transform":[{"filter":"!datum.k && datum.s!='Tsu'"}],"mark":{"type":"line"},"encoding":{"stroke":{"field":"s","type":"nominal","legend":null,"scale":{"domain":["FIF","FIFJ","Tsu","PbP","tot","oc","os","TsuK"],"range":["#9933ff","#8b1c1c","#000000","#ff0000","#0000ff","#0000ff","#0000ff","#000000"]}},"strokeWidth":{"field":"s","type":"ordinal","legend":null,"scale":{"type":"ordinal","domain":["FIF","FIFJ","Tsu","PbP","tot","oc","os","TsuK"],"range":[1.1,1.1,1,2.6,3.2,1.3,1.3,1]}}}},
{"transform":[{"filter":"datum.k=='kl'"}],"mark":{"type":"rule"},"encoding":{"x2":{"field":"x2"},"stroke":{"field":"s","type":"nominal","legend":null},"strokeWidth":{"field":"s","type":"ordinal","legend":null,"scale":{"type":"ordinal","domain":["FIF","FIFJ","Tsu","PbP","tot","oc","os","TsuK"],"range":[1.1,1.1,1,2.6,3.2,1.3,1.3,1]}}}},
{"transform":[{"filter":"!datum.k || datum.k=='kp'"}],"mark":{"type":"point","opacity":1,"strokeWidth":1.2},"encoding":{"fill":{"field":"s","type":"nominal","legend":null,"scale":{"domain":["FIF","FIFJ","Tsu","PbP","tot","oc","os","TsuK"],"range":["white","white","white","#ff0000","#0000ff","white","white","white"]}},"stroke":{"field":"s","type":"nominal","legend":null},"shape":{"field":"s","type":"nominal","legend":null,"scale":{"domain":["FIF","FIFJ","Tsu","PbP","tot","oc","os","TsuK"],"range":["M-1,-1H1V1H-1Z M-1,-1L1,1 M-1,1L1,-1","M0,-1L1,0L0,1L-1,0Z M0,-1V1 M-1,0H1","M-1,-1H1V1H-1Z M0,-1V1 M-1,0H1","circle","circle","circle","square","square"]}},"size":{"field":"s","type":"ordinal","legend":null,"scale":{"type":"ordinal","domain":["FIF","FIFJ","Tsu","PbP","tot","oc","os","TsuK"],"range":[70,100,80,150,150,125,105,80]}}}},
{"transform":[{"filter":"datum.k=='leg'"}],"mark":{"type":"text","align":"left","baseline":"middle","fontSize":20,"color":"#1a1a1a"},"encoding":{"text":{"field":"t"}}},
{"transform":[{"filter":"datum.k=='ls'"}],"mark":{"type":"text","align":"left","baseline":"middle","fontSize":13,"color":"#1a1a1a"},"encoding":{"text":{"field":"t"}}},
{"transform":[{"filter":"datum.k=='legb'"}],"mark":{"type":"text","align":"left","baseline":"middle","fontSize":20,"fontWeight":"bold","color":"#1a1a1a"},"encoding":{"text":{"field":"t"}}},
{"transform":[{"filter":"datum.k=='tt'"}],"mark":{"type":"text","align":"left","baseline":"middle","fontSize":28,"fontWeight":"bold","color":"#1a1a1a"},"encoding":{"text":{"field":"t"}}},
{"transform":[{"filter":"datum.k=='sup'"}],"mark":{"type":"text","align":"left","baseline":"middle","fontSize":16,"fontWeight":"bold","color":"#1a1a1a"},"encoding":{"text":{"field":"t"}}}
]},
{"width":578,"height":270,"transform":[{"filter":"datum.p==2"}],
"encoding":{"x":{"field":"x","type":"quantitative","scale":{"domain":[130,200],"nice":false,"zero":false},"axis":{"values":[130,135,140,145,150,155,160,165,170,175,180,185,190,195,200],"labels":false,"tickSize":-6,"title":null}},
"y":{"field":"y","type":"quantitative","scale":{"domain":[0,8],"nice":false,"zero":false},"axis":{"values":[0,0.5,1,1.5,2,2.5,3,3.5,4,4.5,5,5.5,6,6.5,7,7.5,8],"labels":false,"tickSize":-4,"title":null}}},
"layer":[
{"transform":[{"filter":"datum.k=='box'"}],"mark":{"type":"rect","fill":"black","xOffset":4,"x2Offset":4,"yOffset":4,"y2Offset":4},"encoding":{"x2":{"field":"x2"},"y2":{"field":"y2"}}},
{"transform":[{"filter":"datum.k=='box'"}],"mark":{"type":"rect","fill":"white","stroke":"black","strokeWidth":1.5},"encoding":{"x2":{"field":"x2"},"y2":{"field":"y2"}}},
{"transform":[{"filter":"!datum.k && datum.s!='Tsu'"}],"mark":{"type":"line"},"encoding":{"stroke":{"field":"s","type":"nominal","legend":null,"scale":{"domain":["FIF","FIFJ","Tsu","PbP","tot","oc","os","TsuK"],"range":["#9933ff","#8b1c1c","#000000","#ff0000","#0000ff","#0000ff","#0000ff","#000000"]}},"strokeWidth":{"field":"s","type":"ordinal","legend":null,"scale":{"type":"ordinal","domain":["FIF","FIFJ","Tsu","PbP","tot","oc","os","TsuK"],"range":[1.1,1.1,1,2.6,3.2,1.3,1.3,1]}}}},
{"transform":[{"filter":"datum.k=='kl'"}],"mark":{"type":"rule"},"encoding":{"x2":{"field":"x2"},"stroke":{"field":"s","type":"nominal","legend":null},"strokeWidth":{"field":"s","type":"ordinal","legend":null,"scale":{"type":"ordinal","domain":["FIF","FIFJ","Tsu","PbP","tot","oc","os","TsuK"],"range":[1.1,1.1,1,2.6,3.2,1.3,1.3,1]}}}},
{"transform":[{"filter":"!datum.k || datum.k=='kp'"}],"mark":{"type":"point","opacity":1,"strokeWidth":1.2},"encoding":{"fill":{"field":"s","type":"nominal","legend":null,"scale":{"domain":["FIF","FIFJ","Tsu","PbP","tot","oc","os","TsuK"],"range":["white","white","white","#ff0000","#0000ff","white","white","white"]}},"stroke":{"field":"s","type":"nominal","legend":null},"shape":{"field":"s","type":"nominal","legend":null,"scale":{"domain":["FIF","FIFJ","Tsu","PbP","tot","oc","os","TsuK"],"range":["M-1,-1H1V1H-1Z M-1,-1L1,1 M-1,1L1,-1","M0,-1L1,0L0,1L-1,0Z M0,-1V1 M-1,0H1","M-1,-1H1V1H-1Z M0,-1V1 M-1,0H1","circle","circle","circle","square","square"]}},"size":{"field":"s","type":"ordinal","legend":null,"scale":{"type":"ordinal","domain":["FIF","FIFJ","Tsu","PbP","tot","oc","os","TsuK"],"range":[70,100,80,150,150,125,105,80]}}}},
{"transform":[{"filter":"datum.k=='leg'"}],"mark":{"type":"text","align":"left","baseline":"middle","fontSize":20,"color":"#1a1a1a"},"encoding":{"text":{"field":"t"}}},
{"transform":[{"filter":"datum.k=='ls'"}],"mark":{"type":"text","align":"left","baseline":"middle","fontSize":13,"color":"#1a1a1a"},"encoding":{"text":{"field":"t"}}},
{"transform":[{"filter":"datum.k=='legb'"}],"mark":{"type":"text","align":"left","baseline":"middle","fontSize":20,"fontWeight":"bold","color":"#1a1a1a"},"encoding":{"text":{"field":"t"}}},
{"transform":[{"filter":"datum.k=='tt'"}],"mark":{"type":"text","align":"left","baseline":"middle","fontSize":28,"fontWeight":"bold","color":"#1a1a1a"},"encoding":{"text":{"field":"t"}}},
{"transform":[{"filter":"datum.k=='sup'"}],"mark":{"type":"text","align":"left","baseline":"middle","fontSize":16,"fontWeight":"bold","color":"#1a1a1a"},"encoding":{"text":{"field":"t"}}}
]},
{"width":575,"height":270,"transform":[{"filter":"datum.p==3"}],
"encoding":{"x":{"field":"x","type":"quantitative","scale":{"domain":[130,200],"nice":false,"zero":false},"axis":{"values":[130,135,140,145,150,155,160,165,170,175,180,185,190,195,200],"labels":false,"tickSize":-6,"title":null}},
"y":{"field":"y","type":"quantitative","scale":{"domain":[0,8],"nice":false,"zero":false},"axis":{"values":[0,0.5,1,1.5,2,2.5,3,3.5,4,4.5,5,5.5,6,6.5,7,7.5,8],"format":"d","labelExpr":"datum.value%2==0 && datum.value<8 ? datum.label : ''","tickSize":{"condition":{"test":"datum.value%2==0","value":8},"value":4},"labelPadding":2,"title":"Average prompt neutron multiplicity","titleFontSize":24,"titlePadding":25}}},
"layer":[
{"transform":[{"filter":"datum.k=='box'"}],"mark":{"type":"rect","fill":"black","xOffset":4,"x2Offset":4,"yOffset":4,"y2Offset":4},"encoding":{"x2":{"field":"x2"},"y2":{"field":"y2"}}},
{"transform":[{"filter":"datum.k=='box'"}],"mark":{"type":"rect","fill":"white","stroke":"black","strokeWidth":1.5},"encoding":{"x2":{"field":"x2"},"y2":{"field":"y2"}}},
{"transform":[{"filter":"!datum.k && datum.s!='Tsu'"}],"mark":{"type":"line"},"encoding":{"stroke":{"field":"s","type":"nominal","legend":null,"scale":{"domain":["FIF","FIFJ","Tsu","PbP","tot","oc","os","TsuK"],"range":["#9933ff","#8b1c1c","#000000","#ff0000","#0000ff","#0000ff","#0000ff","#000000"]}},"strokeWidth":{"field":"s","type":"ordinal","legend":null,"scale":{"type":"ordinal","domain":["FIF","FIFJ","Tsu","PbP","tot","oc","os","TsuK"],"range":[1.1,1.1,1,2.6,3.2,1.3,1.3,1]}}}},
{"transform":[{"filter":"datum.k=='kl'"}],"mark":{"type":"rule"},"encoding":{"x2":{"field":"x2"},"stroke":{"field":"s","type":"nominal","legend":null},"strokeWidth":{"field":"s","type":"ordinal","legend":null,"scale":{"type":"ordinal","domain":["FIF","FIFJ","Tsu","PbP","tot","oc","os","TsuK"],"range":[1.1,1.1,1,2.6,3.2,1.3,1.3,1]}}}},
{"transform":[{"filter":"!datum.k || datum.k=='kp'"}],"mark":{"type":"point","opacity":1,"strokeWidth":1.2},"encoding":{"fill":{"field":"s","type":"nominal","legend":null,"scale":{"domain":["FIF","FIFJ","Tsu","PbP","tot","oc","os","TsuK"],"range":["white","white","white","#ff0000","#0000ff","white","white","white"]}},"stroke":{"field":"s","type":"nominal","legend":null},"shape":{"field":"s","type":"nominal","legend":null,"scale":{"domain":["FIF","FIFJ","Tsu","PbP","tot","oc","os","TsuK"],"range":["M-1,-1H1V1H-1Z M-1,-1L1,1 M-1,1L1,-1","M0,-1L1,0L0,1L-1,0Z M0,-1V1 M-1,0H1","M-1,-1H1V1H-1Z M0,-1V1 M-1,0H1","circle","circle","circle","square","square"]}},"size":{"field":"s","type":"ordinal","legend":null,"scale":{"type":"ordinal","domain":["FIF","FIFJ","Tsu","PbP","tot","oc","os","TsuK"],"range":[70,100,80,150,150,125,105,80]}}}},
{"transform":[{"filter":"datum.k=='leg'"}],"mark":{"type":"text","align":"left","baseline":"middle","fontSize":20,"color":"#1a1a1a"},"encoding":{"text":{"field":"t"}}},
{"transform":[{"filter":"datum.k=='ls'"}],"mark":{"type":"text","align":"left","baseline":"middle","fontSize":13,"color":"#1a1a1a"},"encoding":{"text":{"field":"t"}}},
{"transform":[{"filter":"datum.k=='legb'"}],"mark":{"type":"text","align":"left","baseline":"middle","fontSize":20,"fontWeight":"bold","color":"#1a1a1a"},"encoding":{"text":{"field":"t"}}},
{"transform":[{"filter":"datum.k=='tt'"}],"mark":{"type":"text","align":"left","baseline":"middle","fontSize":28,"fontWeight":"bold","color":"#1a1a1a"},"encoding":{"text":{"field":"t"}}},
{"transform":[{"filter":"datum.k=='sup'"}],"mark":{"type":"text","align":"left","baseline":"middle","fontSize":16,"fontWeight":"bold","color":"#1a1a1a"},"encoding":{"text":{"field":"t"}}}
]},
{"width":578,"height":270,"transform":[{"filter":"datum.p==4"}],
"encoding":{"x":{"field":"x","type":"quantitative","scale":{"domain":[130,200],"nice":false,"zero":false},"axis":{"values":[130,135,140,145,150,155,160,165,170,175,180,185,190,195,200],"labels":false,"tickSize":-6,"title":null}},
"y":{"field":"y","type":"quantitative","scale":{"domain":[0,8],"nice":false,"zero":false},"axis":{"values":[0,0.5,1,1.5,2,2.5,3,3.5,4,4.5,5,5.5,6,6.5,7,7.5,8],"labels":false,"tickSize":-4,"title":null}}},
"layer":[
{"transform":[{"filter":"datum.k=='box'"}],"mark":{"type":"rect","fill":"black","xOffset":4,"x2Offset":4,"yOffset":4,"y2Offset":4},"encoding":{"x2":{"field":"x2"},"y2":{"field":"y2"}}},
{"transform":[{"filter":"datum.k=='box'"}],"mark":{"type":"rect","fill":"white","stroke":"black","strokeWidth":1.5},"encoding":{"x2":{"field":"x2"},"y2":{"field":"y2"}}},
{"transform":[{"filter":"!datum.k && datum.s!='Tsu'"}],"mark":{"type":"line"},"encoding":{"stroke":{"field":"s","type":"nominal","legend":null,"scale":{"domain":["FIF","FIFJ","Tsu","PbP","tot","oc","os","TsuK"],"range":["#9933ff","#8b1c1c","#000000","#ff0000","#0000ff","#0000ff","#0000ff","#000000"]}},"strokeWidth":{"field":"s","type":"ordinal","legend":null,"scale":{"type":"ordinal","domain":["FIF","FIFJ","Tsu","PbP","tot","oc","os","TsuK"],"range":[1.1,1.1,1,2.6,3.2,1.3,1.3,1]}}}},
{"transform":[{"filter":"datum.k=='kl'"}],"mark":{"type":"rule"},"encoding":{"x2":{"field":"x2"},"stroke":{"field":"s","type":"nominal","legend":null},"strokeWidth":{"field":"s","type":"ordinal","legend":null,"scale":{"type":"ordinal","domain":["FIF","FIFJ","Tsu","PbP","tot","oc","os","TsuK"],"range":[1.1,1.1,1,2.6,3.2,1.3,1.3,1]}}}},
{"transform":[{"filter":"!datum.k || datum.k=='kp'"}],"mark":{"type":"point","opacity":1,"strokeWidth":1.2},"encoding":{"fill":{"field":"s","type":"nominal","legend":null,"scale":{"domain":["FIF","FIFJ","Tsu","PbP","tot","oc","os","TsuK"],"range":["white","white","white","#ff0000","#0000ff","white","white","white"]}},"stroke":{"field":"s","type":"nominal","legend":null},"shape":{"field":"s","type":"nominal","legend":null,"scale":{"domain":["FIF","FIFJ","Tsu","PbP","tot","oc","os","TsuK"],"range":["M-1,-1H1V1H-1Z M-1,-1L1,1 M-1,1L1,-1","M0,-1L1,0L0,1L-1,0Z M0,-1V1 M-1,0H1","M-1,-1H1V1H-1Z M0,-1V1 M-1,0H1","circle","circle","circle","square","square"]}},"size":{"field":"s","type":"ordinal","legend":null,"scale":{"type":"ordinal","domain":["FIF","FIFJ","Tsu","PbP","tot","oc","os","TsuK"],"range":[70,100,80,150,150,125,105,80]}}}},
{"transform":[{"filter":"datum.k=='leg'"}],"mark":{"type":"text","align":"left","baseline":"middle","fontSize":20,"color":"#1a1a1a"},"encoding":{"text":{"field":"t"}}},
{"transform":[{"filter":"datum.k=='ls'"}],"mark":{"type":"text","align":"left","baseline":"middle","fontSize":13,"color":"#1a1a1a"},"encoding":{"text":{"field":"t"}}},
{"transform":[{"filter":"datum.k=='legb'"}],"mark":{"type":"text","align":"left","baseline":"middle","fontSize":20,"fontWeight":"bold","color":"#1a1a1a"},"encoding":{"text":{"field":"t"}}},
{"transform":[{"filter":"datum.k=='tt'"}],"mark":{"type":"text","align":"left","baseline":"middle","fontSize":28,"fontWeight":"bold","color":"#1a1a1a"},"encoding":{"text":{"field":"t"}}},
{"transform":[{"filter":"datum.k=='sup'"}],"mark":{"type":"text","align":"left","baseline":"middle","fontSize":16,"fontWeight":"bold","color":"#1a1a1a"},"encoding":{"text":{"field":"t"}}}
]},
{"width":575,"height":270,"transform":[{"filter":"datum.p==5"}],
"encoding":{"x":{"field":"x","type":"quantitative","scale":{"domain":[130,200],"nice":false,"zero":false},"axis":{"values":[130,135,140,145,150,155,160,165,170,175,180,185,190,195,200],"labelExpr":"datum.value%10==0 && datum.value<200 ? datum.label : ''","tickSize":-6,"labelPadding":15,"title":"TKE (MeV)","titleFontSize":21,"titlePadding":22}},
"y":{"field":"y","type":"quantitative","scale":{"domain":[0,8],"nice":false,"zero":false},"axis":{"values":[0,0.5,1,1.5,2,2.5,3,3.5,4,4.5,5,5.5,6,6.5,7,7.5,8],"format":"d","labelExpr":"datum.value%2==0 && datum.value<8 ? datum.label : ''","tickSize":{"condition":{"test":"datum.value%2==0","value":8},"value":4},"labelPadding":2,"title":null}}},
"layer":[
{"transform":[{"filter":"datum.k=='box'"}],"mark":{"type":"rect","fill":"black","xOffset":4,"x2Offset":4,"yOffset":4,"y2Offset":4},"encoding":{"x2":{"field":"x2"},"y2":{"field":"y2"}}},
{"transform":[{"filter":"datum.k=='box'"}],"mark":{"type":"rect","fill":"white","stroke":"black","strokeWidth":1.5},"encoding":{"x2":{"field":"x2"},"y2":{"field":"y2"}}},
{"transform":[{"filter":"!datum.k && datum.s!='Tsu'"}],"mark":{"type":"line"},"encoding":{"stroke":{"field":"s","type":"nominal","legend":null,"scale":{"domain":["FIF","FIFJ","Tsu","PbP","tot","oc","os","TsuK"],"range":["#9933ff","#8b1c1c","#000000","#ff0000","#0000ff","#0000ff","#0000ff","#000000"]}},"strokeWidth":{"field":"s","type":"ordinal","legend":null,"scale":{"type":"ordinal","domain":["FIF","FIFJ","Tsu","PbP","tot","oc","os","TsuK"],"range":[1.1,1.1,1,2.6,3.2,1.3,1.3,1]}}}},
{"transform":[{"filter":"datum.k=='kl'"}],"mark":{"type":"rule"},"encoding":{"x2":{"field":"x2"},"stroke":{"field":"s","type":"nominal","legend":null},"strokeWidth":{"field":"s","type":"ordinal","legend":null,"scale":{"type":"ordinal","domain":["FIF","FIFJ","Tsu","PbP","tot","oc","os","TsuK"],"range":[1.1,1.1,1,2.6,3.2,1.3,1.3,1]}}}},
{"transform":[{"filter":"!datum.k || datum.k=='kp'"}],"mark":{"type":"point","opacity":1,"strokeWidth":1.2},"encoding":{"fill":{"field":"s","type":"nominal","legend":null,"scale":{"domain":["FIF","FIFJ","Tsu","PbP","tot","oc","os","TsuK"],"range":["white","white","white","#ff0000","#0000ff","white","white","white"]}},"stroke":{"field":"s","type":"nominal","legend":null},"shape":{"field":"s","type":"nominal","legend":null,"scale":{"domain":["FIF","FIFJ","Tsu","PbP","tot","oc","os","TsuK"],"range":["M-1,-1H1V1H-1Z M-1,-1L1,1 M-1,1L1,-1","M0,-1L1,0L0,1L-1,0Z M0,-1V1 M-1,0H1","M-1,-1H1V1H-1Z M0,-1V1 M-1,0H1","circle","circle","circle","square","square"]}},"size":{"field":"s","type":"ordinal","legend":null,"scale":{"type":"ordinal","domain":["FIF","FIFJ","Tsu","PbP","tot","oc","os","TsuK"],"range":[70,100,80,150,150,125,105,80]}}}},
{"transform":[{"filter":"datum.k=='leg'"}],"mark":{"type":"text","align":"left","baseline":"middle","fontSize":20,"color":"#1a1a1a"},"encoding":{"text":{"field":"t"}}},
{"transform":[{"filter":"datum.k=='ls'"}],"mark":{"type":"text","align":"left","baseline":"middle","fontSize":13,"color":"#1a1a1a"},"encoding":{"text":{"field":"t"}}},
{"transform":[{"filter":"datum.k=='legb'"}],"mark":{"type":"text","align":"left","baseline":"middle","fontSize":20,"fontWeight":"bold","color":"#1a1a1a"},"encoding":{"text":{"field":"t"}}},
{"transform":[{"filter":"datum.k=='tt'"}],"mark":{"type":"text","align":"left","baseline":"middle","fontSize":28,"fontWeight":"bold","color":"#1a1a1a"},"encoding":{"text":{"field":"t"}}},
{"transform":[{"filter":"datum.k=='sup'"}],"mark":{"type":"text","align":"left","baseline":"middle","fontSize":16,"fontWeight":"bold","color":"#1a1a1a"},"encoding":{"text":{"field":"t"}}}
]},
{"width":578,"height":270,"transform":[{"filter":"datum.p==6"}],
"encoding":{"x":{"field":"x","type":"quantitative","scale":{"domain":[130,200],"nice":false,"zero":false},"axis":{"values":[130,135,140,145,150,155,160,165,170,175,180,185,190,195,200],"labelExpr":"datum.value==180 ? '1801' : datum.value==190 ? '90' : datum.value%10==0 ? datum.label : ''","tickSize":-6,"labelPadding":15,"title":"TKE (MeV)","titleFontSize":21,"titlePadding":22}},
"y":{"field":"y","type":"quantitative","scale":{"domain":[0,8],"nice":false,"zero":false},"axis":{"values":[0,0.5,1,1.5,2,2.5,3,3.5,4,4.5,5,5.5,6,6.5,7,7.5,8],"labels":false,"tickSize":-4,"title":null}}},
"layer":[
{"transform":[{"filter":"datum.k=='box'"}],"mark":{"type":"rect","fill":"black","xOffset":4,"x2Offset":4,"yOffset":4,"y2Offset":4},"encoding":{"x2":{"field":"x2"},"y2":{"field":"y2"}}},
{"transform":[{"filter":"datum.k=='box'"}],"mark":{"type":"rect","fill":"white","stroke":"black","strokeWidth":1.5},"encoding":{"x2":{"field":"x2"},"y2":{"field":"y2"}}},
{"transform":[{"filter":"!datum.k && datum.s!='Tsu'"}],"mark":{"type":"line"},"encoding":{"stroke":{"field":"s","type":"nominal","legend":null,"scale":{"domain":["FIF","FIFJ","Tsu","PbP","tot","oc","os","TsuK"],"range":["#9933ff","#8b1c1c","#000000","#ff0000","#0000ff","#0000ff","#0000ff","#000000"]}},"strokeWidth":{"field":"s","type":"ordinal","legend":null,"scale":{"type":"ordinal","domain":["FIF","FIFJ","Tsu","PbP","tot","oc","os","TsuK"],"range":[1.1,1.1,1,2.6,3.2,1.3,1.3,1]}}}},
{"transform":[{"filter":"datum.k=='kl'"}],"mark":{"type":"rule"},"encoding":{"x2":{"field":"x2"},"stroke":{"field":"s","type":"nominal","legend":null},"strokeWidth":{"field":"s","type":"ordinal","legend":null,"scale":{"type":"ordinal","domain":["FIF","FIFJ","Tsu","PbP","tot","oc","os","TsuK"],"range":[1.1,1.1,1,2.6,3.2,1.3,1.3,1]}}}},
{"transform":[{"filter":"!datum.k || datum.k=='kp'"}],"mark":{"type":"point","opacity":1,"strokeWidth":1.2},"encoding":{"fill":{"field":"s","type":"nominal","legend":null,"scale":{"domain":["FIF","FIFJ","Tsu","PbP","tot","oc","os","TsuK"],"range":["white","white","white","#ff0000","#0000ff","white","white","white"]}},"stroke":{"field":"s","type":"nominal","legend":null},"shape":{"field":"s","type":"nominal","legend":null,"scale":{"domain":["FIF","FIFJ","Tsu","PbP","tot","oc","os","TsuK"],"range":["M-1,-1H1V1H-1Z M-1,-1L1,1 M-1,1L1,-1","M0,-1L1,0L0,1L-1,0Z M0,-1V1 M-1,0H1","M-1,-1H1V1H-1Z M0,-1V1 M-1,0H1","circle","circle","circle","square","square"]}},"size":{"field":"s","type":"ordinal","legend":null,"scale":{"type":"ordinal","domain":["FIF","FIFJ","Tsu","PbP","tot","oc","os","TsuK"],"range":[70,100,80,150,150,125,105,80]}}}},
{"transform":[{"filter":"datum.k=='leg'"}],"mark":{"type":"text","align":"left","baseline":"middle","fontSize":20,"color":"#1a1a1a"},"encoding":{"text":{"field":"t"}}},
{"transform":[{"filter":"datum.k=='ls'"}],"mark":{"type":"text","align":"left","baseline":"middle","fontSize":13,"color":"#1a1a1a"},"encoding":{"text":{"field":"t"}}},
{"transform":[{"filter":"datum.k=='legb'"}],"mark":{"type":"text","align":"left","baseline":"middle","fontSize":20,"fontWeight":"bold","color":"#1a1a1a"},"encoding":{"text":{"field":"t"}}},
{"transform":[{"filter":"datum.k=='tt'"}],"mark":{"type":"text","align":"left","baseline":"middle","fontSize":28,"fontWeight":"bold","color":"#1a1a1a"},"encoding":{"text":{"field":"t"}}},
{"transform":[{"filter":"datum.k=='sup'"}],"mark":{"type":"text","align":"left","baseline":"middle","fontSize":16,"fontWeight":"bold","color":"#1a1a1a"},"encoding":{"text":{"field":"t"}}}
]}
]
}
